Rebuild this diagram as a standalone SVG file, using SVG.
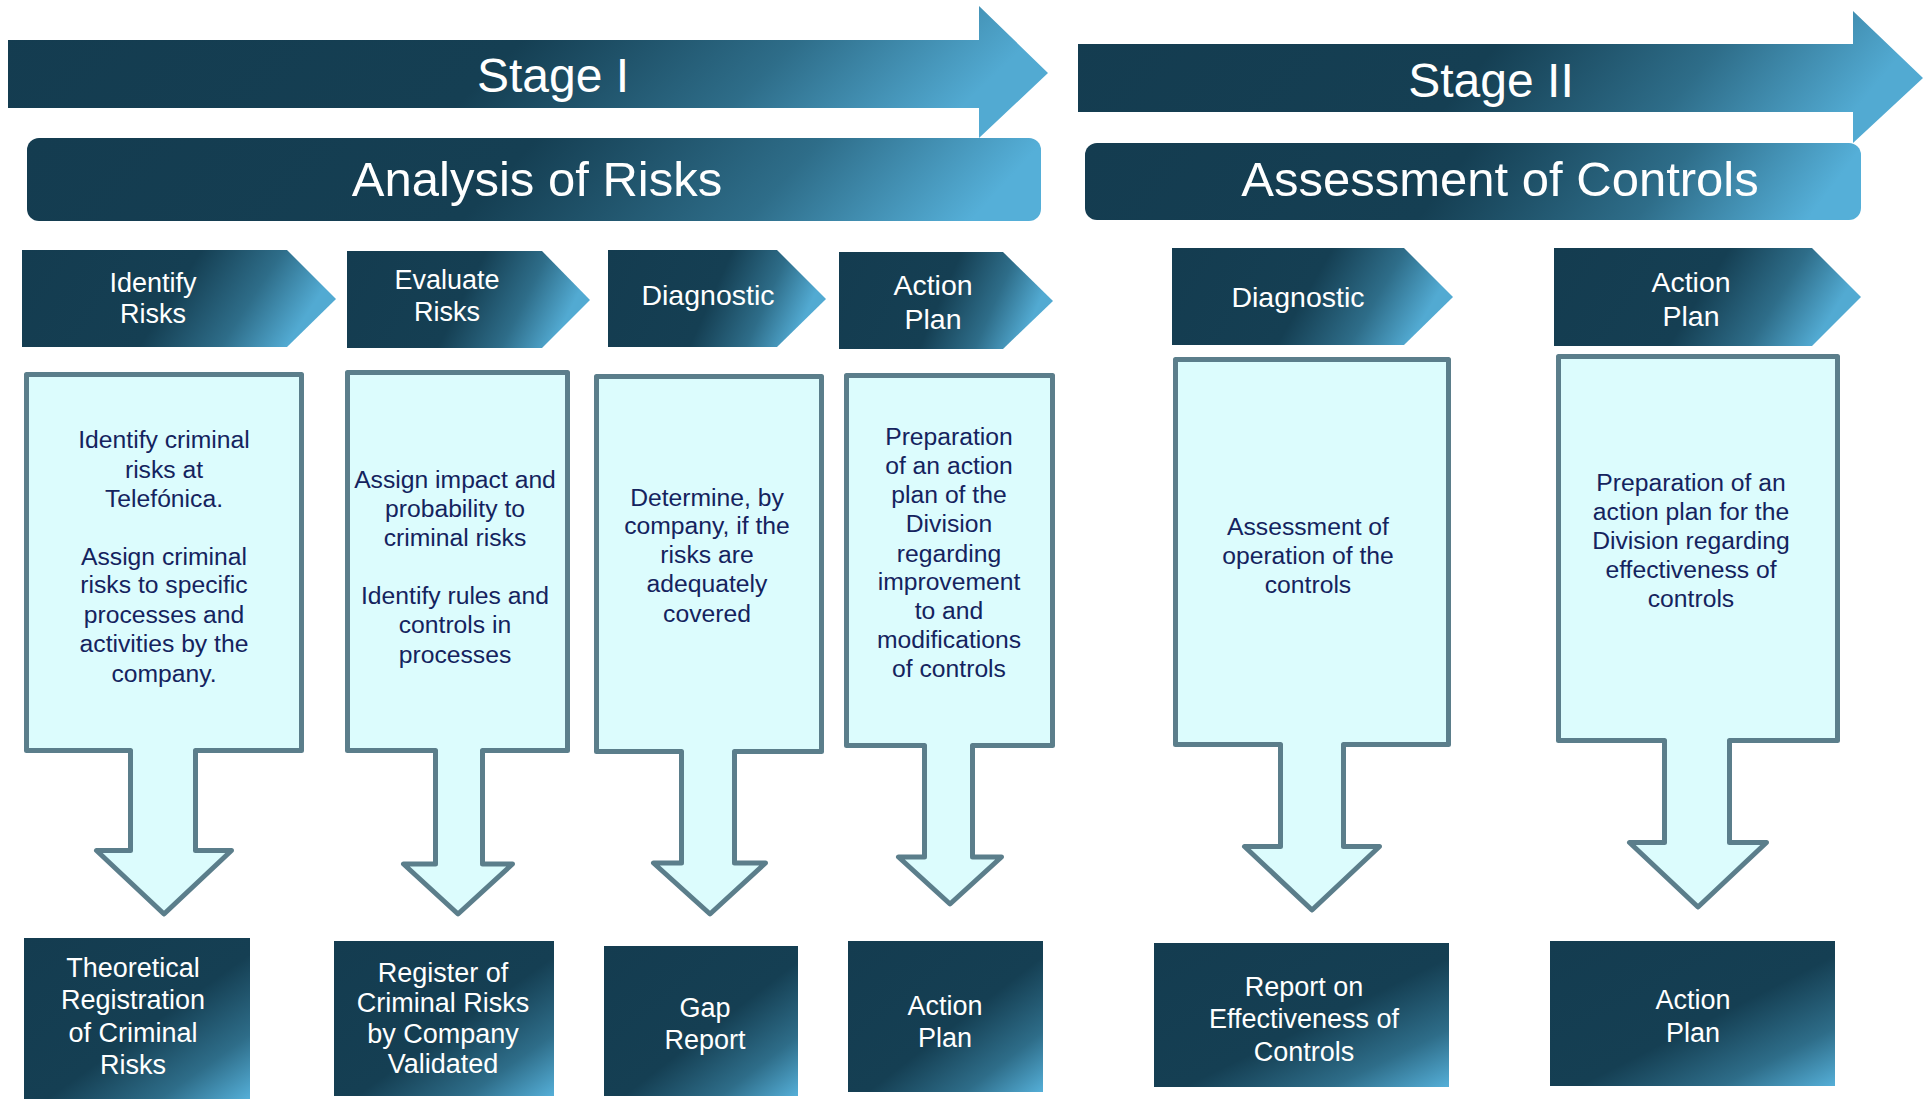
<svg xmlns="http://www.w3.org/2000/svg" width="1925" height="1099" viewBox="0 0 1925 1099">
<defs>
<linearGradient id="gStage" x1="0" y1="0" x2="1" y2="0.13">
<stop offset="0" stop-color="#143c50"/><stop offset="0.52" stop-color="#153f53"/><stop offset="0.78" stop-color="#2e6d89"/><stop offset="1" stop-color="#52aad2"/>
</linearGradient>
<linearGradient id="gBar" x1="0" y1="0" x2="1" y2="0.075">
<stop offset="0" stop-color="#143c50"/><stop offset="0.5" stop-color="#153f53"/><stop offset="0.78" stop-color="#2e6d89"/><stop offset="1" stop-color="#55afd8"/>
</linearGradient>
<linearGradient id="gChev" x1="0" y1="0" x2="1" y2="0.2">
<stop offset="0" stop-color="#143c50"/><stop offset="0.55" stop-color="#153f53"/><stop offset="0.8" stop-color="#2e6d89"/><stop offset="1" stop-color="#52aad2"/>
</linearGradient>
<linearGradient id="gOut" x1="0" y1="0" x2="1" y2="1">
<stop offset="0" stop-color="#143c50"/><stop offset="0.55" stop-color="#153f53"/><stop offset="0.8" stop-color="#2e6d89"/><stop offset="1" stop-color="#55afd8"/>
</linearGradient>
<style>
.stage{fill:url(#gStage);}
.bar{fill:url(#gBar);}
.chev{fill:url(#gChev);}
.out{fill:url(#gOut);}
.call{fill:#dcfcfd;stroke:#5b7e8b;stroke-width:5;stroke-linejoin:round;}
text{font-family:"Liberation Sans",Arial,sans-serif;text-anchor:middle;}
.big{fill:#ffffff;font-size:48px;}
.hd{fill:#ffffff;font-size:28.5px;}
.hds{fill:#ffffff;font-size:27px;}
.desc{fill:#14235e;font-size:24.7px;}
.ot{fill:#ffffff;font-size:27px;}
</style>
</defs>
<rect width="1925" height="1099" fill="#ffffff"/>

<g id="stage1">
<path class="stage" d="M8,40 H979 V6 L1048,73 L979,138 V108 H8 Z"/>
<text class="big" x="553" y="92">Stage I</text>
</g>
<g id="stage2">
<path class="stage" d="M1078,44 H1853 V11 L1923,78 L1853,143 V112 H1078 Z"/>
<text class="big" x="1491" y="97">Stage II</text>
</g>
<g id="bar-analysis">
<rect class="bar" x="27" y="138" width="1014" height="83" rx="12"/>
<text class="big" x="537" y="196" style="font-size:49px">Analysis of Risks</text>
</g>
<g id="bar-assessment">
<rect class="bar" x="1085" y="143" width="776" height="77" rx="12"/>
<text class="big" x="1500" y="196" style="font-size:49px">Assessment of Controls</text>
</g>

<g id="chev-identify">
<path class="chev" d="M22,250 H287 L336,299 L287,347 H22 Z"/>
<text class="hds" x="153"><tspan x="153" y="292">Identify</tspan><tspan x="153" y="323">Risks</tspan></text>
</g>
<g id="chev-evaluate">
<path class="chev" d="M347,251 H542 L590,300 L542,348 H347 Z"/>
<text class="hds" x="447"><tspan x="447" y="289">Evaluate</tspan><tspan x="447" y="321">Risks</tspan></text>
</g>
<g id="chev-diagnostic1">
<path class="chev" d="M608,250 H777 L826,299 L777,347 H608 Z"/>
<text class="hd" x="708" y="305">Diagnostic</text>
</g>
<g id="chev-action1">
<path class="chev" d="M839,252 H1003 L1053,301 L1003,349 H839 Z"/>
<text class="hd" x="933"><tspan x="933" y="295">Action</tspan><tspan x="933" y="329">Plan</tspan></text>
</g>
<g id="chev-diagnostic2">
<path class="chev" d="M1172,248 H1404 L1453,297 L1404,345 H1172 Z"/>
<text class="hd" x="1298" y="307">Diagnostic</text>
</g>
<g id="chev-action2">
<path class="chev" d="M1554,248 H1812 L1861,297 L1812,346 H1554 Z"/>
<text class="hd" x="1691"><tspan x="1691" y="292">Action</tspan><tspan x="1691" y="326">Plan</tspan></text>
</g>

<g id="task-identify">
<path class="call" d="M26.5,374.5 H301.5 V750.5 H195.5 V850.5 H231.5 L164,914 L96.5,850.5 H130.5 V750.5 H26.5 Z"/>
<text class="desc"><tspan x="164" y="448">Identify criminal</tspan><tspan x="164" y="478">risks at</tspan><tspan x="164" y="507">Telefónica.</tspan><tspan x="164" y="565">Assign criminal</tspan><tspan x="164" y="593">risks to specific</tspan><tspan x="164" y="623">processes and</tspan><tspan x="164" y="652">activities by the</tspan><tspan x="164" y="682">company.</tspan></text>
</g>
<g id="task-evaluate">
<path class="call" d="M347.5,372.5 H567.5 V750.5 H482.5 V864 H512.5 L458,914 L403.5,864 H435.5 V750.5 H347.5 Z"/>
<text class="desc"><tspan x="455" y="488">Assign impact and</tspan><tspan x="455" y="517">probability to</tspan><tspan x="455" y="546">criminal risks</tspan><tspan x="455" y="604">Identify rules and</tspan><tspan x="455" y="633">controls in</tspan><tspan x="455" y="663">processes</tspan></text>
</g>
<g id="task-diagnostic1">
<path class="call" d="M596.5,376.5 H821.5 V751.5 H734.5 V863 H765.5 L710,914 L653.5,863 H681.5 V751.5 H596.5 Z"/>
<text class="desc"><tspan x="707" y="506">Determine, by</tspan><tspan x="707" y="534">company, if the</tspan><tspan x="707" y="563">risks are</tspan><tspan x="707" y="592">adequately</tspan><tspan x="707" y="622">covered</tspan></text>
</g>
<g id="task-action1">
<path class="call" d="M846.5,375.5 H1052.5 V745.5 H972.5 V857 H1001.5 L950,904 L898.5,857 H924.5 V745.5 H846.5 Z"/>
<text class="desc"><tspan x="949" y="445">Preparation</tspan><tspan x="949" y="474">of an action</tspan><tspan x="949" y="503">plan of the</tspan><tspan x="949" y="532">Division</tspan><tspan x="949" y="562">regarding</tspan><tspan x="949" y="590">improvement</tspan><tspan x="949" y="619">to and</tspan><tspan x="949" y="648">modifications</tspan><tspan x="949" y="677">of controls</tspan></text>
</g>
<g id="task-diagnostic2">
<path class="call" d="M1175.5,359.5 H1448.5 V744.5 H1343.5 V846.5 H1379.5 L1312,910 L1244.5,846.5 H1280.5 V744.5 H1175.5 Z"/>
<text class="desc"><tspan x="1308" y="535">Assessment of</tspan><tspan x="1308" y="564">operation of the</tspan><tspan x="1308" y="593">controls</tspan></text>
</g>
<g id="task-action2">
<path class="call" d="M1558.5,356.5 H1837.5 V740.5 H1729.5 V842.5 H1766.5 L1698,907 L1629.5,842.5 H1664.5 V740.5 H1558.5 Z"/>
<text class="desc"><tspan x="1691" y="491">Preparation of an</tspan><tspan x="1691" y="520">action plan for the</tspan><tspan x="1691" y="549">Division regarding</tspan><tspan x="1691" y="578">effectiveness of</tspan><tspan x="1691" y="607">controls</tspan></text>
</g>

<g id="out-theoretical">
<rect class="out" x="24" y="938" width="226" height="161"/>
<text class="ot"><tspan x="133" y="977">Theoretical</tspan><tspan x="133" y="1009">Registration</tspan><tspan x="133" y="1042">of Criminal</tspan><tspan x="133" y="1074">Risks</tspan></text>
</g>
<g id="out-register">
<rect class="out" x="334" y="941" width="220" height="155"/>
<text class="ot"><tspan x="443" y="982">Register of</tspan><tspan x="443" y="1012">Criminal Risks</tspan><tspan x="443" y="1043">by Company</tspan><tspan x="443" y="1073">Validated</tspan></text>
</g>
<g id="out-gap">
<rect class="out" x="604" y="946" width="194" height="150"/>
<text class="ot"><tspan x="705" y="1017">Gap</tspan><tspan x="705" y="1049">Report</tspan></text>
</g>
<g id="out-action1">
<rect class="out" x="848" y="941" width="195" height="151"/>
<text class="ot"><tspan x="945" y="1015">Action</tspan><tspan x="945" y="1047">Plan</tspan></text>
</g>
<g id="out-report">
<rect class="out" x="1154" y="943" width="295" height="144"/>
<text class="ot"><tspan x="1304" y="996">Report on</tspan><tspan x="1304" y="1028">Effectiveness of</tspan><tspan x="1304" y="1061">Controls</tspan></text>
</g>
<g id="out-action2">
<rect class="out" x="1550" y="941" width="285" height="145"/>
<text class="ot"><tspan x="1693" y="1009">Action</tspan><tspan x="1693" y="1042">Plan</tspan></text>
</g>

<g id="connectors"></g>
</svg>
